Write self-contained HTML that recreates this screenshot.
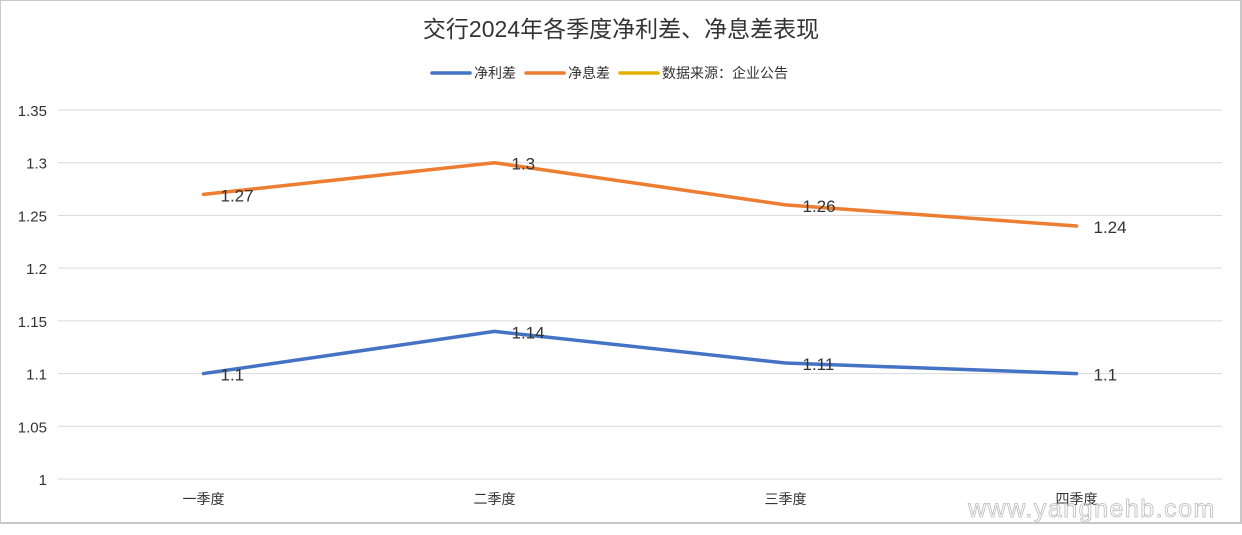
<!DOCTYPE html>
<html><head><meta charset="utf-8"><style>
body{margin:0;background:#fff;width:1242px;height:535px;overflow:hidden;font-family:"Liberation Sans","Noto Sans CJK SC",sans-serif;}
#frame{position:absolute;left:0;top:0;width:1239px;height:521px;border:1px solid #c8c8c8;border-right:2px solid #c8c8c8;border-bottom:2px solid #c8c8c8;}
</style></head><body>
<div id="frame"></div>
<svg id="c" width="1242" height="535" style="position:absolute;left:0;top:0"></svg>
<script>
const categories=["一季度","二季度","三季度","四季度"];
const netSpread=[1.1,1.14,1.11,1.1];
const netMargin=[1.27,1.3,1.26,1.24];
const yTicks=[1,1.05,1.1,1.15,1.2,1.25,1.3,1.35];
const yTickLabels=["1","1.05","1.1","1.15","1.2","1.25","1.3","1.35"];
const NS="http://www.w3.org/2000/svg";
const svg=document.getElementById('c');
const x0=58,x1=1222,yTop=110,yBot=479,ymin=1,ymax=1.35;
const band=(x1-x0)/categories.length;
const X=i=>x0+band*(i+0.5);
const Y=v=>yBot-(v-ymin)/(ymax-ymin)*(yBot-yTop);
function mk(t,a,txt){const e=document.createElementNS(NS,t);for(const k in a)e.setAttribute(k,a[k]);if(txt!==undefined)e.textContent=txt;svg.appendChild(e);return e;}
let t=mk('text',{x:621,y:37,'text-anchor':'middle','font-size':23,fill:'#333'},'交行2024年各季度净利差、净息差表现');

const leg=[["净利差","#4472c4",432],["净息差","#ed7d31",526],["数据来源：企业公告","#e6b000",620]];
leg.forEach(l=>{
 let g=mk('line',{x1:l[2],x2:l[2]+38,y1:73,y2:73,stroke:l[1],'stroke-width':3.5,'stroke-linecap':'round'});
 
 let tx=mk('text',{x:l[2]+42,y:78,'font-size':14,fill:'#333'},l[0]);
 
});
yTicks.forEach((v,i)=>{
 let g=mk('line',{x1:x0,x2:x1,y1:Y(v),y2:Y(v),stroke:'#d9d9d9','stroke-width':1});
 
 let tx=mk('text',{x:47,y:Y(v)+6,'text-anchor':'end','font-size':15,fill:'#333'},yTickLabels[i]);
 
});
categories.forEach((c,i)=>{
 let tx=mk('text',{x:X(i),y:504,'text-anchor':'middle','font-size':14,fill:'#333'},c);
 
});
[[netSpread,'#4472c4','net-spread-line'],[netMargin,'#ed7d31','net-margin-line']].forEach(s=>{
 let p=mk('polyline',{points:s[0].map((v,i)=>X(i)+','+Y(v)).join(' '),fill:'none',stroke:s[1],'stroke-width':3.5,'stroke-linejoin':'round','stroke-linecap':'round'});
 
 s[0].forEach((v,i)=>{
  let tx=mk('text',{x:X(i)+17,y:Y(v)+7,'font-size':17,fill:'#333'},String(v));
  
 });
});
let w=mk('text',{x:1092,y:517,'text-anchor':'middle','font-size':25,fill:'none',stroke:'#bbb','stroke-width':0.8,'letter-spacing':1.5},'www.yangnehb.com');

</script>
</body></html>
